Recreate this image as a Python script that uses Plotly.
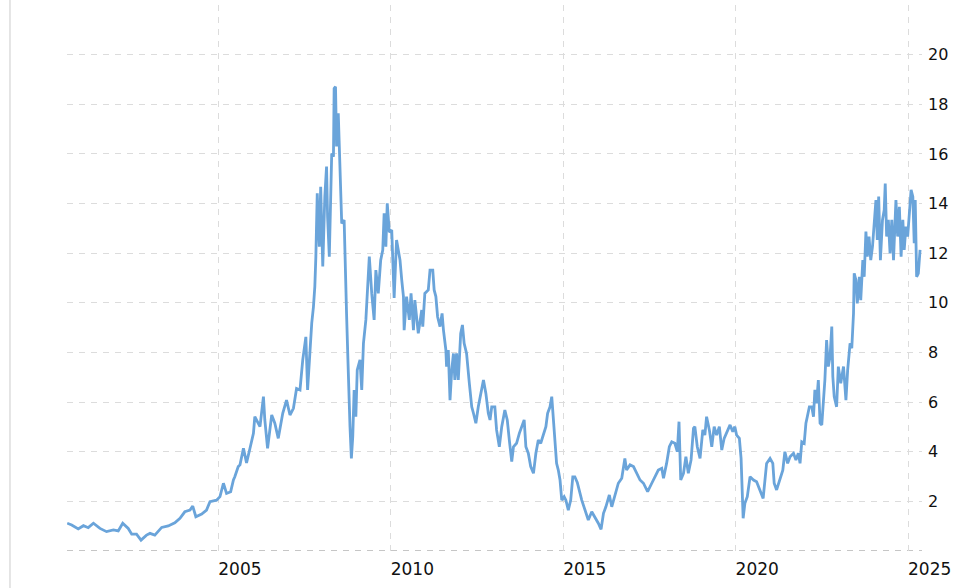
import plotly.graph_objects as go

# decimal years and values
years = [
    2000.62, 2000.75, 2000.94, 2001.09, 2001.23, 2001.38, 2001.57, 2001.76, 2001.96, 2002.10,
    2002.23, 2002.39, 2002.49, 2002.63, 2002.76, 2002.92, 2003.02, 2003.16, 2003.36, 2003.55,
    2003.74, 2003.89, 2004.03, 2004.18, 2004.26, 2004.35, 2004.52, 2004.66, 2004.76, 2004.95,
    2005.05, 2005.15, 2005.24, 2005.36, 2005.44, 2005.48, 2005.58, 2005.63, 2005.73, 2005.82,
    2005.92, 2006.02, 2006.06, 2006.21, 2006.31, 2006.35, 2006.43, 2006.55, 2006.64, 2006.74,
    2006.87, 2006.98, 2007.08, 2007.18, 2007.27, 2007.37, 2007.45, 2007.54, 2007.59, 2007.66,
    2007.71, 2007.76, 2007.80, 2007.83, 2007.87, 2007.93, 2007.97, 2008.03, 2008.09, 2008.14,
    2008.17, 2008.22, 2008.26, 2008.29, 2008.34, 2008.36, 2008.40, 2008.43, 2008.48, 2008.53,
    2008.58, 2008.65, 2008.67, 2008.72, 2008.76, 2008.78, 2008.82, 2008.86, 2008.90, 2008.94,
    2008.99, 2009.03, 2009.11, 2009.16, 2009.21, 2009.28, 2009.32, 2009.38, 2009.45, 2009.52,
    2009.57, 2009.64, 2009.71, 2009.77, 2009.81, 2009.86, 2009.90, 2009.96, 2010.03, 2010.08,
    2010.10, 2010.17, 2010.27, 2010.32, 2010.37, 2010.39, 2010.46, 2010.54, 2010.59, 2010.66,
    2010.70, 2010.80, 2010.90, 2010.93, 2010.99, 2011.09, 2011.14, 2011.22, 2011.26, 2011.31,
    2011.36, 2011.43, 2011.49, 2011.53, 2011.60, 2011.62, 2011.67, 2011.72, 2011.77, 2011.82,
    2011.86, 2011.91, 2011.96, 2012.03, 2012.08, 2012.13, 2012.20, 2012.28, 2012.35, 2012.40,
    2012.47, 2012.54, 2012.61, 2012.69, 2012.76, 2012.83, 2012.88, 2012.93, 2013.02, 2013.07,
    2013.15, 2013.22, 2013.31, 2013.38, 2013.44, 2013.51, 2013.56, 2013.65, 2013.73, 2013.80,
    2013.87, 2013.92, 2013.99, 2014.06, 2014.14, 2014.21, 2014.28, 2014.35, 2014.43, 2014.50,
    2014.55, 2014.62, 2014.67, 2014.72, 2014.76, 2014.81, 2014.86, 2014.91, 2014.96, 2015.03,
    2015.08, 2015.15, 2015.22, 2015.28, 2015.34, 2015.41, 2015.54, 2015.63, 2015.73, 2015.83,
    2015.92, 2016.02, 2016.10, 2016.17, 2016.24, 2016.34, 2016.41, 2016.50, 2016.60, 2016.70,
    2016.79, 2016.84, 2016.94, 2017.04, 2017.13, 2017.23, 2017.33, 2017.45, 2017.57, 2017.66,
    2017.76, 2017.86, 2017.91, 2018.00, 2018.08, 2018.15, 2018.24, 2018.31, 2018.36, 2018.41,
    2018.49, 2018.56, 2018.63, 2018.71, 2018.78, 2018.82, 2018.89, 2018.97, 2019.05, 2019.11,
    2019.16, 2019.24, 2019.31, 2019.38, 2019.45, 2019.53, 2019.60, 2019.67, 2019.74, 2019.84,
    2019.92, 2019.98, 2020.03, 2020.11, 2020.16, 2020.19, 2020.22, 2020.27, 2020.34, 2020.42,
    2020.52, 2020.61, 2020.71, 2020.80, 2020.90, 2021.00, 2021.08, 2021.12, 2021.19, 2021.29,
    2021.37, 2021.43, 2021.51, 2021.58, 2021.68, 2021.75, 2021.82, 2021.87, 2021.92, 2021.99,
    2022.04, 2022.08, 2022.14, 2022.21, 2022.26, 2022.30, 2022.35, 2022.40, 2022.45, 2022.50,
    2022.55, 2022.59, 2022.64, 2022.69, 2022.74, 2022.79, 2022.82, 2022.86, 2022.93, 2022.98,
    2023.05, 2023.13, 2023.20, 2023.25, 2023.32, 2023.37, 2023.42, 2023.44, 2023.49, 2023.53,
    2023.59, 2023.63, 2023.69, 2023.73, 2023.78, 2023.82, 2023.87, 2023.92, 2023.97, 2024.02,
    2024.07, 2024.11, 2024.15, 2024.20, 2024.26, 2024.31, 2024.34, 2024.38, 2024.43, 2024.48,
    2024.53, 2024.58, 2024.62, 2024.65, 2024.70, 2024.75, 2024.80, 2024.85, 2024.89, 2024.94,
    2024.99, 2025.04, 2025.09, 2025.14, 2025.18, 2025.21, 2025.25, 2025.30, 2025.35,
]

values = [
    1.12, 1.05, 0.89, 1.02, 0.94, 1.12, 0.91, 0.78, 0.85, 0.81,
    1.12, 0.91, 0.68, 0.68, 0.44, 0.64, 0.71, 0.64, 0.95, 1.01,
    1.14, 1.32, 1.58, 1.65, 1.81, 1.38, 1.49, 1.65, 1.99, 2.05,
    2.19, 2.73, 2.32, 2.39, 2.86, 2.99, 3.40, 3.47, 4.14, 3.55,
    4.14, 4.74, 5.41, 5.01, 6.22, 5.28, 4.14, 5.48, 5.15, 4.54,
    5.55, 6.08, 5.48, 5.75, 6.55, 6.49, 7.70, 8.63, 6.49, 8.23,
    9.17, 9.84, 10.65, 11.86, 14.41, 12.26, 14.68, 11.46, 14.28, 15.49,
    13.47, 11.86, 14.55, 16.02, 15.89, 18.64, 18.71, 16.30, 17.64, 15.09,
    13.20, 13.34, 11.86, 9.57, 7.70, 6.49, 5.01, 3.73, 4.61, 6.49,
    5.41, 7.29, 7.70, 6.49, 8.37, 9.31, 10.52, 11.86, 10.38, 9.31,
    11.32, 10.38, 11.72, 12.13, 13.61, 12.26, 14.01, 12.85, 12.93, 11.00,
    10.20, 12.53, 11.72, 10.92, 10.25, 8.90, 10.25, 9.31, 10.38, 8.90,
    10.11, 8.77, 9.71, 9.04, 10.38, 10.52, 11.32, 11.32, 10.52, 10.25,
    9.44, 9.04, 9.57, 8.90, 8.10, 7.43, 8.10, 6.08, 7.29, 7.96,
    6.89, 7.96, 6.89, 8.77, 9.11, 8.37, 7.96, 6.76, 5.81, 5.55,
    5.15, 5.81, 6.35, 6.89, 6.35, 5.55, 5.28, 5.81, 5.81, 4.88,
    4.20, 5.01, 5.68, 5.28, 4.47, 3.60, 4.20, 4.34, 4.74, 5.01,
    5.28, 4.20, 3.94, 3.40, 3.13, 3.94, 4.47, 4.34, 4.74, 5.01,
    5.55, 5.81, 6.22, 5.28, 4.20, 3.53, 3.26, 2.86, 2.05, 2.19,
    2.05, 1.65, 2.05, 2.99, 2.99, 2.76, 2.05, 1.65, 1.25, 1.58,
    1.38, 1.12, 0.87, 1.52, 1.78, 2.26, 1.78, 2.26, 2.73, 2.93,
    3.73, 3.26, 3.47, 3.40, 3.13, 2.86, 2.73, 2.39, 2.73, 2.99,
    3.26, 3.33, 2.93, 3.53, 4.20, 4.40, 4.34, 4.00, 5.21, 2.86,
    3.13, 3.80, 3.13, 3.67, 4.94, 5.01, 4.20, 3.73, 4.88, 4.67,
    5.41, 4.88, 4.20, 5.01, 4.67, 5.01, 4.07, 4.54, 4.74, 5.08,
    4.81, 5.01, 4.67, 4.54, 3.73, 2.05, 1.32, 1.92, 2.19, 2.99,
    2.86, 2.79, 2.46, 2.12, 3.53, 3.73, 3.53, 2.73, 2.46, 2.86,
    3.26, 4.00, 3.53, 3.80, 3.94, 3.67, 3.94, 3.53, 4.40, 4.34,
    5.15, 5.41, 5.81, 5.81, 5.41, 6.49, 5.95, 6.89, 5.15, 5.08,
    5.95, 6.89, 8.50, 7.43, 7.83, 9.04, 7.03, 6.22, 5.81, 7.43,
    6.76, 7.43, 6.08, 7.29, 8.37, 8.17, 9.57, 11.19, 10.92, 9.98,
    11.05, 10.11, 11.72, 11.05, 12.87, 11.86, 12.67, 11.72, 12.26, 13.34,
    14.14, 12.53, 14.28, 11.72, 13.34, 13.74, 14.81, 12.67, 13.34, 11.99,
    13.34, 11.72, 13.47, 14.14, 12.67, 13.87, 11.86, 13.34, 12.13, 13.07,
    12.67, 13.47, 14.55, 14.28, 12.40, 14.14, 11.05, 11.19, 12.13,
]

x_ticks = [2005, 2010, 2015, 2020, 2025]
x_labels = ["2005", "2010", "2015", "2020", "2025"]
y_ticks = [2, 4, 6, 8, 10, 12, 14, 16, 18, 20, 22]
y_labels = ["2", "4", "6", "8", "10", "12", "14", "16", "18", "20", ""]

GRID = "#dcdcdc"
LINE = "#6aa4da"

fig = go.Figure()
fig.add_trace(go.Scatter(
    x=years, y=values, mode="lines",
    line=dict(color=LINE, width=2.8),
    hoverinfo="skip", showlegend=False,
))

fig.update_layout(
    width=965, height=588,
    margin=dict(l=67, r=43, t=5, b=37),
    paper_bgcolor="white", plot_bgcolor="white",
    font=dict(family="DejaVu Sans", color="#111111"),
    xaxis=dict(
        range=[2000.614, 2025.406],
        tickvals=x_ticks, ticktext=x_labels,
        showgrid=True, gridcolor=GRID, griddash="6px,6px", gridwidth=1,
        zeroline=False, showline=False, ticks="",
        ticklabelposition="outside right",
        ticklabelstandoff=6,
        tickfont=dict(size=17, family="DejaVu Sans", color="#111111"),
    ),
    yaxis=dict(
        range=[0, 22], side="right",
        tickvals=y_ticks, ticktext=y_labels,
        showgrid=True, gridcolor=GRID, griddash="6px,6px", gridwidth=1,
        zeroline=False, showline=False, ticks="",
        ticklabelstandoff=5,
        tickfont=dict(size=16, family="DejaVu Sans", color="#111111"),
    ),
    shapes=[
        dict(type="line", xref="paper", yref="y", x0=0, x1=1, y0=0, y1=0,
             line=dict(color="#b4b4b4", width=1.5, dash="6px,6px"), layer="below"),
        dict(type="line", xref="paper", yref="paper", x0=-0.0667, x1=-0.0667,
             y0=-0.07, y1=1.01, line=dict(color="#dddddd", width=1.5)),
    ],
)

fig.write_html(
    "out.html",
    config={"displayModeBar": False, "staticPlot": True},
    post_script="document.body.style.margin='0';",
)
